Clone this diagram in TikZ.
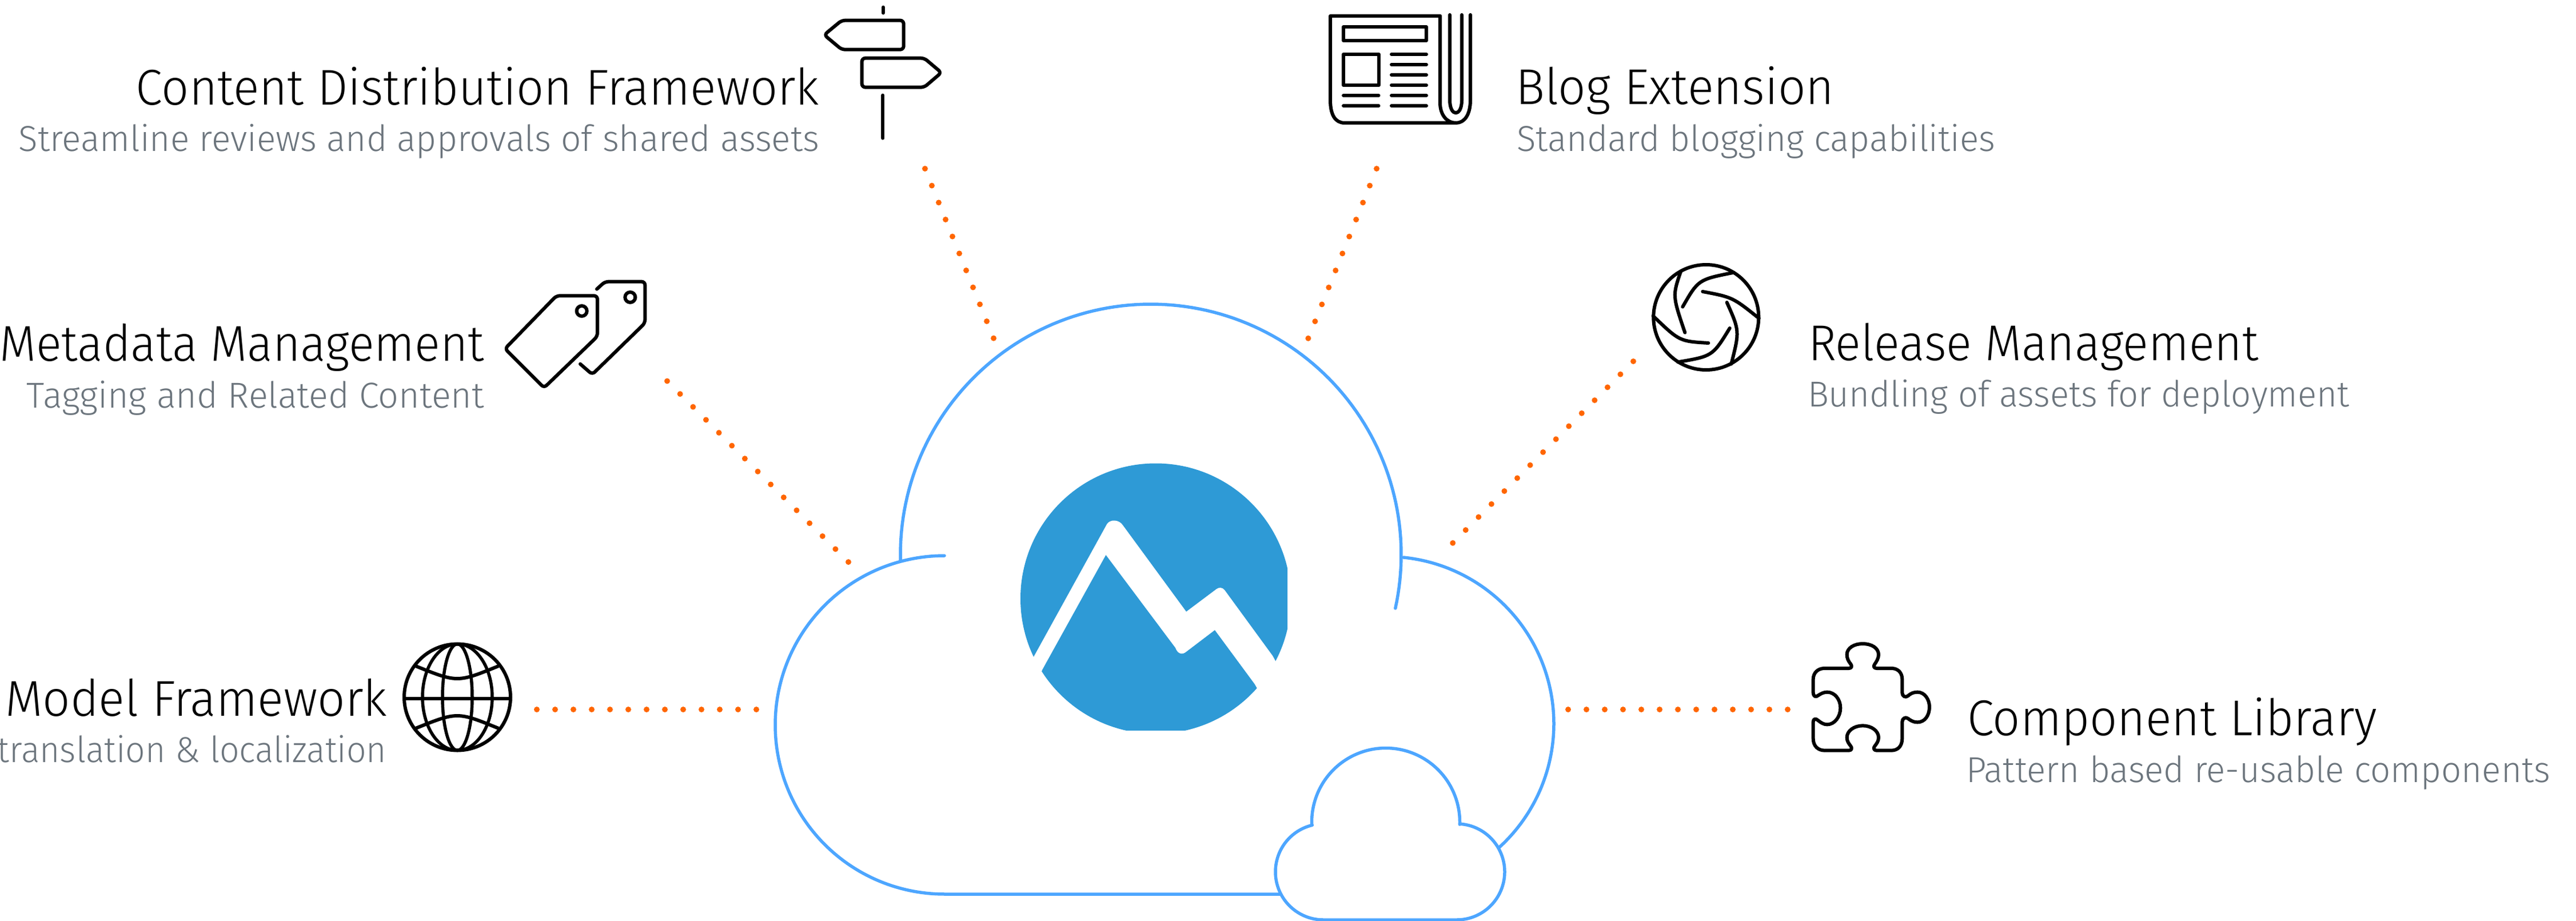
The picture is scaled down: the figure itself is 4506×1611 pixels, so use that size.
\documentclass[tikz,border=0pt]{standalone}
\usepackage{fontspec}
\usepackage{graphicx}
\setmainfont{Fira Sans Light}
\definecolor{cloudblue}{HTML}{4DA6FF}
\definecolor{logoblue}{HTML}{2E9AD6}
\definecolor{dotorange}{HTML}{FF6600}
\definecolor{subgrey}{HTML}{6C757D}
\newcommand\earc[5]{plot[domain=#4:#5,samples=120,variable=\t] ({#1+#3*cos(\t)},{#2+#3*sin(\t)})}
\newcommand\earcto[5]{-- plot[domain=#4:#5,samples=120,variable=\t] ({#1+#3*cos(\t)},{#2+#3*sin(\t)})}
\newcommand\fitw[2]{\resizebox{#1pt}{\height}{#2}}
\tikzset{
  cloudline/.style={draw=cloudblue,line width=1.1pt,line cap=round,line join=round},
  icon/.style={draw=black,line width=1.2pt,line cap=round,line join=round},
  dotline/.style={draw=dotorange,line width=2pt,line cap=round,dash pattern=on 0pt off 6.4pt},
  titletext/.style={inner sep=0pt,text=black,font=\fontsize{17.6pt}{20pt}\selectfont},
  subtext/.style={inner sep=0pt,text=subgrey,font=\fontsize{12.6pt}{15pt}\selectfont},
}
\begin{document}
\begin{tikzpicture}[x=0.2pt,y=-0.2pt]
\useasboundingbox (0,0) rectangle (4506,1611);
% connector ends
\coordinate (cdfA) at (1618,295); \coordinate (cdfB) at (1739,594);
\coordinate (blogA) at (2408,295); \coordinate (blogB) at (2287.5,594);
\coordinate (metaA) at (1167,666.5); \coordinate (metaB) at (1485,984);
\coordinate (relA) at (2857,632); \coordinate (relB) at (2541,950);
\coordinate (modelA) at (939,1241); \coordinate (modelB) at (1324,1241);
\coordinate (compA) at (2743,1241); \coordinate (compB) at (3129,1241);
\draw[dotline] (cdfA) -- (cdfB);
\draw[dotline] (blogA) -- (blogB);
\draw[dotline] (metaA) -- (metaB);
\draw[dotline] (relA) -- (relB);
\draw[dotline] (modelA) -- (modelB);
\draw[dotline] (compA) -- (compB);
% cloud
\draw[cloudline] \earc{2013}{970}{438}{178.7}{372.4};
\draw[cloudline] \earc{1652}{1268}{296}{270}{90} -- (2242,1564);
\draw[cloudline] \earc{2425.5}{1266}{292.5}{275.8}{410};
\draw[cloudline,fill=white] \earc{2424}{1438}{129.5}{178.2}{361.8} \earcto{2548}{1525}{84}{274}{450} \earcto{2315}{1525}{84}{90}{256.5} -- cycle;
% logo
\begin{scope}
\clip (1785,810) rectangle (2252,1277);
\fill[logoblue] (2021.5,1047) circle[x radius=236.5,y radius=236.5];
\fill[white] (1750,1254) -- (1809,1147.4) -- (1936.4,916.5) .. controls (1942,908) and (1958,908) .. (1965,920) -- (2075,1070) -- (2127.7,1030.5) .. controls (2132,1027) and (2138,1027) .. (2142,1032) -- (2226.3,1147.4) -- (2290,1265) -- (2260,1310) -- (2194.7,1196.5) -- (2125,1102) -- (2075,1140) .. controls (2068,1146) and (2060,1144) .. (2056,1133) -- (1934.4,970.6) -- (1823.4,1171) -- (1780,1275) -- cycle;
\end{scope}
% texts
\node[titletext,anchor=base east] (t1) at (1434,184) {\fitw{239}{Content Distribution Framework}};
\node[subtext,anchor=base east] (s1) at (1434,264) {\fitw{280}{Streamline reviews and approvals of shared assets}};
\node[titletext,anchor=base east] (t2) at (848,631) {\fitw{169.5}{Metadata Management}};
\node[subtext,anchor=base east] (s2) at (848,713) {\fitw{160}{Tagging and Related Content}};
\node[titletext,anchor=base east] (t3) at (678,1252) {\fitw{133.5}{Model Framework}};
\node[subtext,anchor=base east] (s3) at (677,1333) {\fitw{136}{translation \& localization}};
\node[titletext,anchor=base west] (t4) at (2650,183) {\fitw{111.5}{Blog Extension}};
\node[subtext,anchor=base west] (s4) at (2652,264) {\fitw{167.4}{Standard blogging capabilities}};
\node[titletext,anchor=base west] (t5) at (3162,630) {\fitw{157.5}{Release Management}};
\node[subtext,anchor=base west] (s5) at (3161,711) {\fitw{189.5}{Bundling of assets for deployment}};
\node[titletext,anchor=base west] (t6) at (3440,1286) {\fitw{143.4}{Component Library}};
\node[subtext,anchor=base west] (s6) at (3438,1368) {\fitw{204.4}{Pattern based re-usable components}};
% signpost
\begin{scope}[shift={(1420,0)},scale=1/3]
\draw[icon] (375,38) -- (375,68);
\draw[icon,rounded corners=1.2pt] (65,183) -- (157,107) -- (482,107) -- (482,260) -- (157,260) -- cycle;
\draw[icon,rounded corners=1.2pt] (263,305) -- (590,305) -- (680,381) -- (590,458) -- (263,458) -- cycle;
\draw[icon] (373,500) -- (373,725);
\end{scope}
% tags
\begin{scope}[shift={(860,470)},scale=1/3]
\draw[icon,rounded corners=1.2pt] (70,420) -- (340,142) -- (555,142) -- (555,355) -- (275,625) -- cycle;
\draw[icon] (473,222) circle[radius=27];
\draw[icon,rounded corners=1.2pt] (552,107) -- (595,68) -- (805,68) -- (805,285) -- (528,555) -- (465,500);
\draw[icon] (727,150) circle[radius=27];
\end{scope}
% globe
\draw[icon] (800,1219.5) circle[x radius=93,y radius=93];
\draw[icon,line width=1.1pt] (800,1219.5) circle[x radius=61,y radius=93];
\draw[icon,line width=1.1pt] (800,1219.5) circle[x radius=26,y radius=93];
\draw[icon,line cap=butt] (707,1222) -- (893,1222);
\draw[icon,line cap=butt] (727,1165) .. controls (800,1194.3) .. (872,1165);
\draw[icon,line cap=butt] (727,1274) .. controls (800,1244.7) .. (872,1274);
% newspaper
\draw[icon] (2519,28) -- (2327,28) -- (2327,175) .. controls (2327,200) and (2335,215) .. (2352,215) -- (2547,215) .. controls (2562,215) and (2572,200) .. (2572,175) -- (2572,26);
\draw[icon] (2519,28) -- (2519,180) .. controls (2519,200) and (2530,215) .. (2547,215);
\draw[icon] (2536,26) -- (2536,175) .. controls (2536,205) and (2557,205) .. (2557,175) -- (2557,26);
\draw[icon] (2350,47) rectangle (2495,71);
\draw[icon] (2350,95) rectangle (2411.6,149);
\foreach \yy in {95,113,131,149,167,185} \draw[icon] (2434,\yy) -- (2495,\yy);
\foreach \yy in {167,185} \draw[icon] (2350,\yy) -- (2411.5,\yy);
% aperture
\draw[icon] (2984.3,555) circle[radius=92];
\draw[icon] (2940,475) .. controls (2925.5,517.3) .. (2947.3,581.7);
\draw[icon] (3032.7,476.7) .. controls (2970.7,489) .. (2943.3,536.7);
\draw[icon] (2978.3,510) .. controls (3030.8,520) .. (3076.7,556.7);
\draw[icon] (3020.7,529) .. controls (3043,579) .. (3028.3,636.7);
\draw[icon] (3025.7,574) .. controls (2995.7,623) .. (2935,633.3);
\draw[icon] (2988.3,600) .. controls (2937.7,597) .. (2891.7,552.7);
% puzzle
\begin{scope}[shift={(3130,1110)},scale=1/3]
\draw[icon] (125,235) .. controls (125,200) and (150,177) .. (185,177) -- (312,177) .. controls (328,177) and (330,165) .. (322,155) .. controls (310,140) and (302,125) .. (302,105) .. controls (302,70) and (340,48) .. (385,48) .. controls (430,48) and (468,70) .. (468,105) .. controls (468,125) and (458,140) .. (448,155) .. controls (440,165) and (442,177) .. (458,177) -- (535,177) .. controls (570,177) and (592,200) .. (592,235) -- (592,305) .. controls (592,325) and (610,332) .. (622,322) .. controls (635,310) and (650,302) .. (672,302) .. controls (710,302) and (735,340) .. (735,380) .. controls (735,425) and (710,460) .. (672,460) .. controls (650,460) and (635,450) .. (622,440) .. controls (610,430) and (592,440) .. (592,458) -- (592,545) .. controls (592,585) and (570,608) .. (535,608) -- (458,608) .. controls (442,608) and (440,595) .. (448,585) .. controls (458,572) and (468,560) .. (468,540) .. controls (468,505) and (430,478) .. (385,478) .. controls (340,478) and (302,505) .. (302,540) .. controls (302,560) and (312,572) .. (322,585) .. controls (330,595) and (328,608) .. (312,608) -- (185,608) .. controls (150,608) and (125,585) .. (125,545) -- (125,458) .. controls (125,440) and (140,440) .. (150,450) .. controls (165,462) and (180,472) .. (198,472) .. controls (238,472) and (268,430) .. (268,385) .. controls (268,340) and (238,302) .. (198,302) .. controls (180,302) and (165,310) .. (150,320) .. controls (140,330) and (125,325) .. (125,305) -- cycle;
\end{scope}
\end{tikzpicture}
\end{document}
